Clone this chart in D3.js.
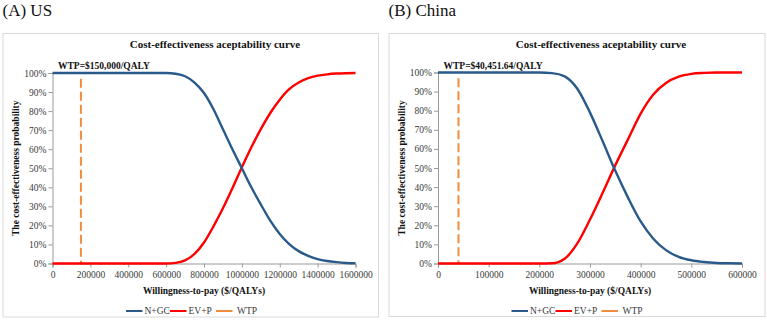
<!DOCTYPE html>
<html>
<head>
<meta charset="utf-8">
<script src="https://cdn.jsdelivr.net/npm/d3@7"></script>
<style>
  html, body { margin: 0; padding: 0; background: #ffffff; }
  svg { display: block; }
  text { font-family: "Liberation Serif", "Times New Roman", serif; }
</style>
</head>
<body>
<svg id="chart" width="767" height="320"></svg>
<script>
// ---------------- DATA ----------------
const panelTitles = ["(A) US", "(B) China"];
const chartTitle = "Cost-effectiveness aceptability curve";
const xAxisTitle = "Willingness-to-pay ($/QALYs)";
const yAxisTitle = "The cost-effectiveness probability";
const seriesNames = ["N+GC", "EV+P", "WTP"];
const yTickValues = [0, 10, 20, 30, 40, 50, 60, 70, 80, 90, 100];

// US panel
const usWTP = 150000;
const usWTPLabel = "WTP=$150,000/QALY";
const usXTicks = [0, 200000, 400000, 600000, 800000, 1000000, 1200000, 1400000, 1600000];
const usX = [0, 50000, 100000, 150000, 200000, 250000, 300000, 350000, 400000, 450000, 500000,
  550000, 600000, 650000, 700000, 750000, 800000, 850000, 900000, 950000, 1000000,
  1050000, 1100000, 1150000, 1200000, 1250000, 1300000, 1350000, 1400000, 1450000,
  1500000, 1550000, 1600000];
const usNGC = [100, 100, 100, 100, 100, 100, 100, 100, 100, 100, 100,
  100, 100, 99.6, 98.3, 95, 89.5, 81, 70.5, 60, 50,
  40, 31, 22.5, 15.5, 10.2, 6.5, 4, 2.3, 1.3,
  0.7, 0.3, 0.1];
const usEVP = [0, 0, 0, 0, 0, 0, 0, 0, 0, 0, 0,
  0, 0, 0.3, 1.6, 5, 11, 19.5, 29, 39.5, 50.5,
  61, 70.5, 79, 86, 91.5, 95, 97.3, 98.6, 99.3,
  99.7, 99.9, 100];

// China panel
const cnWTP = 40451.64;
const cnWTPLabel = "WTP=$40,451.64/QALY";
const cnXTicks = [0, 100000, 200000, 300000, 400000, 500000, 600000];
const cnX = [0, 25000, 50000, 75000, 100000, 125000, 150000, 175000, 200000, 225000,
  250000, 275000, 300000, 325000, 350000, 375000, 400000, 425000, 450000, 475000,
  500000, 525000, 550000, 575000, 600000];
const cnNGC = [100, 100, 100, 100, 100, 100, 100, 100, 100, 99.7,
  98, 91.5, 79, 64, 48.5, 34.5, 22, 13, 7, 3.5,
  1.7, 0.8, 0.3, 0.1, 0];
const cnEVP = [0, 0, 0, 0, 0, 0, 0, 0, 0, 0.1,
  2.5, 10.5, 23, 37, 51.5, 65, 78.5, 88.5, 94.5, 97.8,
  99.3, 99.8, 100, 100, 100];

// ---------------- STYLE ----------------
const colors = { ngc: "#2A5A8A", evp: "#FF0000", wtp: "#F08C3E" };
const axisColor = "#9a9a9a";
const labelColor = "#3a3a3a";

const svg = d3.select("#chart");

function drawPanel(cfg) {
  const g = svg.append("g");

  // panel title
  g.append("text")
    .attr("x", cfg.frame.x).attr("y", 15.5)
    .attr("font-size", 17).attr("fill", "#111")
    .text(cfg.panelTitle);

  // frame
  g.append("rect")
    .attr("x", cfg.frame.x + 0.5).attr("y", cfg.frame.y + 0.5)
    .attr("width", cfg.frame.w).attr("height", cfg.frame.h)
    .attr("fill", "#fff").attr("stroke", "#d9d9d9").attr("stroke-width", 1);

  const x = d3.scaleLinear().domain([cfg.xTicks[0], cfg.xTicks[cfg.xTicks.length - 1]])
    .range([cfg.plot.left, cfg.plot.right]);
  const y = d3.scaleLinear().domain([0, 100]).range([cfg.plot.bottom, cfg.plot.top]);

  // chart title
  g.append("text")
    .attr("x", cfg.titleX).attr("y", 48)
    .attr("text-anchor", "middle")
    .attr("font-size", 11).attr("font-weight", "bold").attr("fill", "#111")
    .text(chartTitle);

  // axes
  const xAxis = g.append("g")
    .attr("transform", `translate(0,${cfg.plot.bottom})`)
    .call(d3.axisBottom(x).tickValues(cfg.xTicks).tickFormat(d3.format("d")).tickSizeOuter(0).tickSize(4).tickPadding(4));
  const yAxis = g.append("g")
    .attr("transform", `translate(${cfg.plot.left},0)`)
    .call(d3.axisLeft(y).tickValues(yTickValues).tickFormat(d => d + "%").tickSizeOuter(0).tickSize(4).tickPadding(2));
  [xAxis, yAxis].forEach(a => {
    a.attr("font-family", null);
    a.select(".domain").attr("stroke", axisColor);
    a.selectAll(".tick line").attr("stroke", axisColor);
    a.selectAll(".tick text")
      .attr("font-size", 9.5).attr("fill", labelColor);
  });

  // axis titles
  g.append("text")
    .attr("x", (cfg.plot.left + cfg.plot.right) / 2).attr("y", 294)
    .attr("text-anchor", "middle")
    .attr("font-size", 9.5).attr("font-weight", "bold").attr("fill", "#111")
    .text(xAxisTitle);
  g.append("text")
    .attr("transform", `translate(${cfg.yTitleX},${(cfg.plot.top + cfg.plot.bottom) / 2}) rotate(-90)`)
    .attr("text-anchor", "middle")
    .attr("font-size", 9.5).attr("font-weight", "bold").attr("fill", "#111")
    .text(yAxisTitle);

  // WTP label
  g.append("text")
    .attr("x", cfg.plot.left + 5.5).attr("y", 69)
    .attr("font-size", 9.5).attr("font-weight", "bold").attr("fill", "#111")
    .text(cfg.wtpLabel);

  // WTP dashed line
  g.append("line")
    .attr("x1", x(cfg.wtp)).attr("x2", x(cfg.wtp))
    .attr("y1", y(97)).attr("y2", y(0))
    .attr("stroke", colors.wtp).attr("stroke-width", 2)
    .attr("stroke-dasharray", "9,4");

  const line = d3.line()
    .x(d => x(d[0])).y(d => y(d[1]))
    .curve(d3.curveMonotoneX);

  g.append("path")
    .datum(d3.zip(cfg.xs, cfg.evp))
    .attr("d", line).attr("fill", "none")
    .attr("stroke", colors.evp).attr("stroke-width", 2.4);
  g.append("path")
    .datum(d3.zip(cfg.xs, cfg.ngc))
    .attr("d", line).attr("fill", "none")
    .attr("stroke", colors.ngc).attr("stroke-width", 2.4);

  // legend
  const lg = g.append("g").attr("transform", `translate(${cfg.legendX},311)`);
  const items = [
    { name: seriesNames[0], color: colors.ngc, w: 42 },
    { name: seriesNames[1], color: colors.evp, w: 46 },
    { name: seriesNames[2], color: colors.wtp, w: 40 }
  ];
  let off = 0;
  items.forEach((it, i) => {
    lg.append("line")
      .attr("x1", off).attr("x2", off + 16.5).attr("y1", 0).attr("y2", 0)
      .attr("stroke", it.color).attr("stroke-width", 2);
    lg.append("text")
      .attr("x", off + (i === 2 ? 21 : 18.5)).attr("y", 3.3)
      .attr("font-size", 9.5).attr("fill", labelColor)
      .text(it.name);
    off += it.w + (i === 0 ? 2 : 0);
  });
}

drawPanel({
  panelTitle: panelTitles[0],
  frame: { x: 2.5, y: 33, w: 375.5, h: 283.5 },
  plot: { left: 52.5, right: 355.5, top: 73, bottom: 263.5 },
  titleX: 215,
  yTitleX: 18.5,
  legendX: 126,
  xTicks: usXTicks, xs: usX, ngc: usNGC, evp: usEVP,
  wtp: usWTP, wtpLabel: usWTPLabel
});

drawPanel({
  panelTitle: panelTitles[1],
  frame: { x: 388.5, y: 33, w: 376, h: 283 },
  plot: { left: 438, right: 742, top: 72.5, bottom: 263.5 },
  titleX: 601,
  yTitleX: 404.5,
  legendX: 511.5,
  xTicks: cnXTicks, xs: cnX, ngc: cnNGC, evp: cnEVP,
  wtp: cnWTP, wtpLabel: cnWTPLabel
});
</script>
</body>
</html>
